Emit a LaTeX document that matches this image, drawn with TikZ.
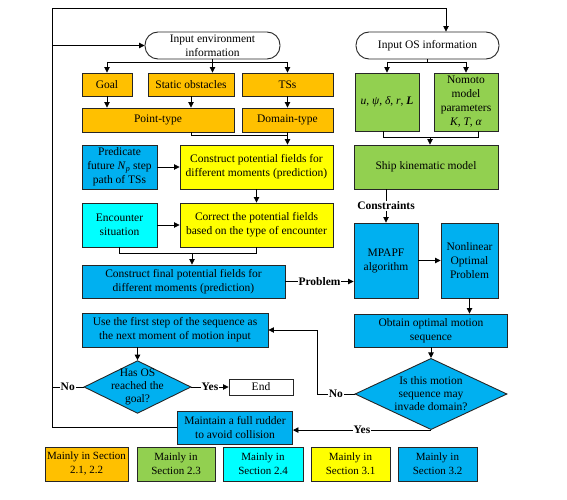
\documentclass[tikz,border=0pt]{standalone}
\usepackage{fontspec}
\setmainfont{Liberation Serif}
\usetikzlibrary{arrows.meta,shapes.geometric}
\definecolor{secA}{HTML}{FFC000}
\definecolor{secB}{HTML}{92D050}
\definecolor{secC}{HTML}{00FFFF}
\definecolor{secD}{HTML}{FFFF00}
\definecolor{secE}{HTML}{00B0F0}
\tikzset{
  box/.style={draw=black!85,line width=0.9pt,align=center,inner sep=1pt,font=\fontsize{11.5}{14}\selectfont},
  start/.style={box,fill=white,rounded corners=13pt},
  ask/.style={box,diamond,fill=secE,inner sep=-9pt,font=\fontsize{11.5}{13}\selectfont},
  note/.style={box,minimum height=34pt,font=\fontsize{11}{14}\selectfont},
  flow/.style={line width=0.8pt,-{Triangle[length=5.5pt,width=5.5pt]}},
  link/.style={line width=0.8pt},
  lbl/.style={fill=white,inner sep=1pt,font=\bfseries\fontsize{11.5}{14}\selectfont}
}
\begin{document}
\begin{tikzpicture}[x=1pt,y=-1pt]
\useasboundingbox (0,0) rectangle (567,500);
\node[start,minimum width=135pt,minimum height=27pt] (envin) at (212.5,45.5) {Input environment\\information};
\node[start,minimum width=143pt,minimum height=27pt] (osin) at (427.5,45.5) {Input OS information};
\node[box,fill=secA,minimum width=50pt,minimum height=23pt] (goal) at (107,84.5) {Goal};
\node[box,fill=secA,minimum width=86pt,minimum height=23pt] (static) at (191,84.5) {Static obstacles};
\node[box,fill=secA,minimum width=91pt,minimum height=23pt] (tss) at (287.5,84.5) {TSs};
\node[box,fill=secA,minimum width=152pt,minimum height=24pt] (point) at (158,120) {Point-type};
\node[box,fill=secA,minimum width=91pt,minimum height=24pt] (domain) at (287.5,120) {Domain-type};
\node[box,fill=secB,minimum width=64pt,minimum height=58pt] (osvar) at (387,102) {\textit{u}, \textit{ψ}, \textit{δ}, \textit{r}, \textbf{\textit{L}}};
\node[box,fill=secB,minimum width=64pt,minimum height=58pt] (nomoto) at (466,102) {Nomoto\\model\\parameters\\\textit{K}, \textit{T}, \textit{α}};
\node[box,fill=secE,minimum width=75pt,minimum height=44pt] (predict) at (119.5,167) {Predicate\\future \textit{N}\textsubscript{\textit{p}} step\\path of TSs};
\node[box,fill=secD,minimum width=153pt,minimum height=44pt] (field) at (256.5,167) {Construct potential fields for\\different moments (prediction)};
\node[box,fill=secC,minimum width=75pt,minimum height=44pt] (encounter) at (119.5,225) {Encounter\\situation};
\node[box,fill=secD,minimum width=153pt,minimum height=44pt] (correct) at (256.5,225) {Correct the potential fields\\based on the type of encounter};
\node[box,fill=secE,minimum width=203pt,minimum height=33pt] (final) at (183.5,281.5) {Construct final potential fields for\\different moments (prediction)};
\node[box,fill=secB,minimum width=144pt,minimum height=44pt] (ship) at (426,167) {Ship kinematic model};
\node[box,fill=secE,minimum width=64pt,minimum height=75pt] (mpapf) at (386,260.5) {MPAPF\\algorithm};
\node[box,fill=secE,minimum width=57pt,minimum height=75pt] (nonlin) at (469.5,260.5) {Nonlinear\\Optimal\\Problem};
\node[box,fill=secE,minimum width=153pt,minimum height=33pt] (obtain) at (431,330.5) {Obtain optimal motion\\sequence};
\node[ask,minimum width=152pt,minimum height=66pt] (invade) at (431,394) {Is this motion\\sequence may\\invade domain?};
\node[box,fill=secE,minimum width=186pt,minimum height=34pt] (usefirst) at (175,330) {Use the first step of the sequence as\\the next moment of motion input};
\node[ask,minimum width=107pt,minimum height=52pt] (goalq) at (137.5,387) {Has OS\\reached the\\goal?};
\node[box,fill=white,minimum width=64pt,minimum height=16pt] (endn) at (261,387) {End};
\node[box,fill=secE,minimum width=115pt,minimum height=33pt] (rudder) at (235,427.5) {Maintain a full rudder\\to avoid collision};
\node[note,fill=secA,minimum width=83pt] (keyA) at (86.5,464) {Mainly in Section\\2.1, 2.2};
\node[note,fill=secB,minimum width=78pt] (keyB) at (176,464) {Mainly in\\Section 2.3};
\node[note,fill=secC,minimum width=80pt] (keyC) at (263,464) {Mainly in\\Section 2.4};
\node[note,fill=secD,minimum width=79pt] (keyD) at (350.5,464) {Mainly in\\Section 3.1};
\node[note,fill=secE,minimum width=79pt] (keyE) at (437.5,464) {Mainly in\\Section 3.2};
\coordinate (loopbot) at (52,427.5);
\coordinate (looptop) at (52,8);
\coordinate (loopend) at (446,8);
\coordinate (envsplit) at (212.5,62);
\coordinate (ossplit) at (427.5,62);
\coordinate (pointjoin) at (191,135);
\coordinate (osjoinl) at (383,137);
\coordinate (osjoinr) at (478,137);
\coordinate (osjoin) at (430,137);
\coordinate (encjoin) at (192,253);
\coordinate (noturn) at (317,394);
\draw[flow] (rudder) -- (loopbot) -- (looptop) -- (loopend) -- (loopend |- osin.north);
\draw[flow] (looptop |- envin) -- (envin);
\draw[link] (envin) -- (envsplit);
\draw[link] (goal |- envsplit) -- (tss |- envsplit);
\draw[flow] (goal |- envsplit) -- (goal);
\draw[flow] (envsplit) -- (envsplit |- static.north);
\draw[flow] (tss |- envsplit) -- (tss);
\draw[flow] (goal) -- (goal |- point.north);
\draw[flow] (static) -- (static |- point.north);
\draw[flow] (tss) -- (domain);
\draw[link] (static |- point.south) -- (pointjoin) -- (pointjoin -| domain);
\draw[flow] (domain) -- (domain |- field.north);
\draw[flow] (predict) -- (field);
\draw[flow] (field) -- (correct);
\draw[flow] (encounter) -- (correct);
\draw[link] (encounter) -- (encounter |- encjoin) -- (correct |- encjoin) -- (correct);
\draw[flow] (encjoin) -- (encjoin |- final.north);
\draw[flow] (final) -- node[lbl]{Problem} (final -| mpapf.west);
\draw[link] (osin) -- (ossplit);
\draw[link] (osvar |- ossplit) -- (nomoto |- ossplit);
\draw[flow] (osvar |- ossplit) -- (osvar);
\draw[flow] (nomoto |- ossplit) -- (nomoto);
\draw[link] (osvar.south -| osjoinl) -- (osjoinl) -- (osjoinr) -- (nomoto.south -| osjoinr);
\draw[flow] (osjoin) -- (osjoin |- ship.north);
\draw[flow] (ship.south -| mpapf) -- node[lbl]{Constraints} (mpapf);
\draw[flow] (mpapf) -- (nonlin);
\draw[flow] (nonlin) -- (nonlin |- obtain.north);
\draw[flow] (obtain) -- (invade);
\draw[flow] (invade) -- node[lbl]{No} (noturn) -- (noturn |- usefirst.east) -- (usefirst.east);
\draw[flow] (invade.south) -- node[lbl]{Yes} (invade.south -| rudder.east);
\draw[flow] (usefirst.south -| goalq) -- (goalq);
\draw[flow] (goalq) -- node[lbl]{Yes} (endn);
\draw[link] (goalq) -- node[lbl]{No} (goalq -| looptop);
\end{tikzpicture}
\end{document}
